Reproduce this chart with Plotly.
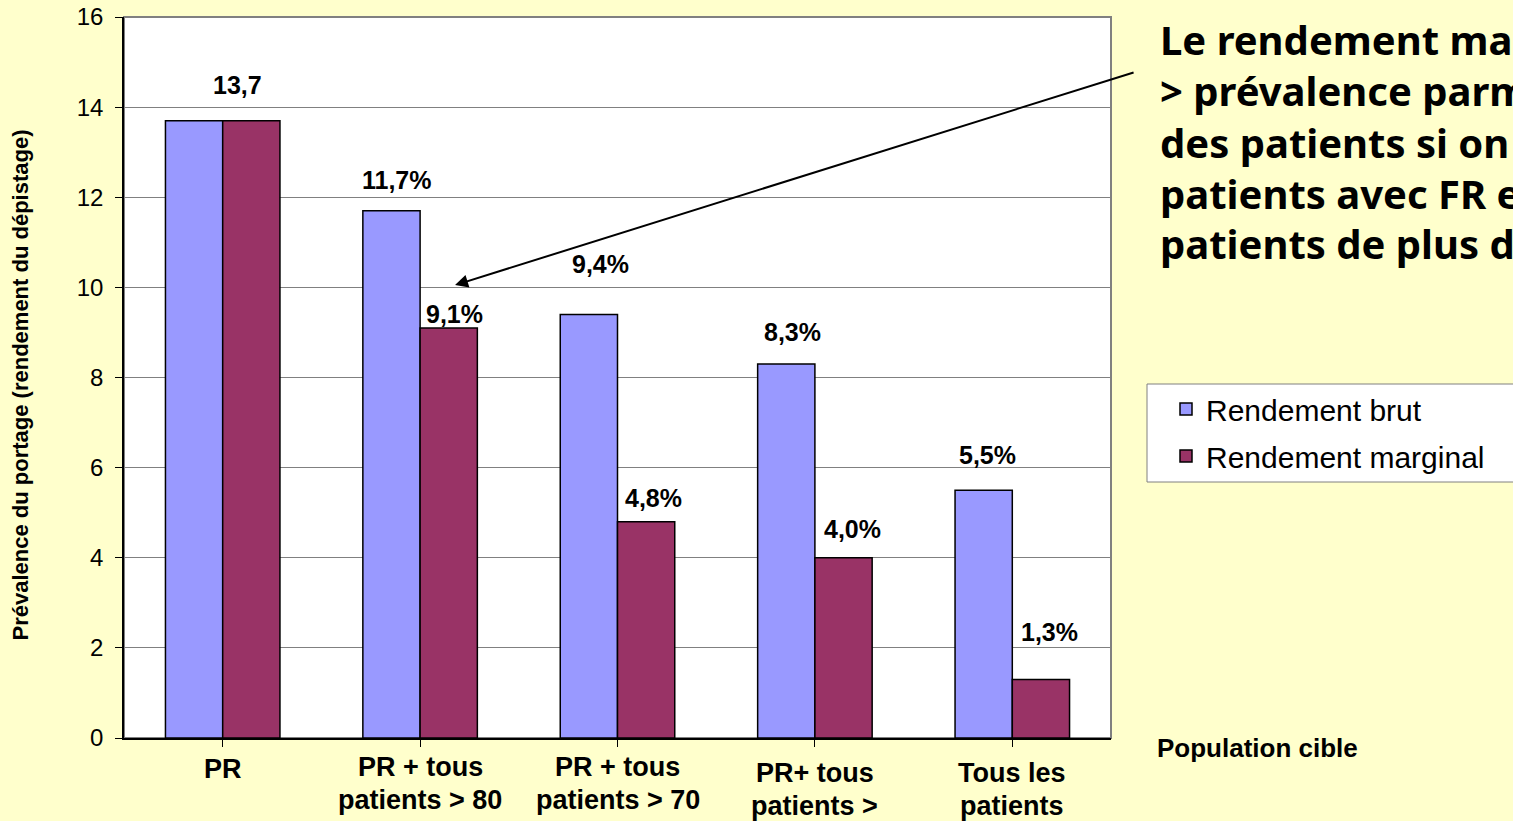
import plotly.graph_objects as go

categories = ["PR", "PR + tous<br>patients > 80", "PR + tous<br>patients > 70",
              "PR+ tous<br>patients >", "Tous les<br>patients"]
brut = [13.7, 11.7, 9.4, 8.3, 5.5]
marginal = [13.7, 9.1, 4.8, 4.0, 1.3]
brut_labels = ["13,7", "11,7%", "9,4%", "8,3%", "5,5%"]
marginal_labels = ["", "9,1%", "4,8%", "4,0%", "1,3%"]
y_ticks = [0, 2, 4, 6, 8, 10, 12, 14, 16]
callout_lines = ["Le rendement marginal =", "&gt; prévalence parmi le reste",
                 "des patients si on dépiste les", "patients avec FR et les",
                 "patients de plus de 80 ans"]

# label placement (style, in pixels)
brut_shift = [(43, 36), (5, 31), (11, 50), (6, 32), (4, 35)]
marg_shift = [(0, 0), (6, 14), (7, 24), (9, 29), (9, 47)]
xlabel_first_px = [769, 767, 767, 773, 773]
LINE_PX = 33
CALLOUT_FIRST_PX, CALLOUT_LINE_PX = 40, 51

BLUE = "#9999FF"
RED = "#993366"
FONT = "Arial, Liberation Sans, sans-serif"

PLOT_TOP, PLOT_BOTTOM, PLOT_LEFT, PLOT_RIGHT = 17, 738, 124, 1111


def py(p):
    return (PLOT_BOTTOM - p) / (PLOT_BOTTOM - PLOT_TOP)


def px(p):
    return (p - PLOT_LEFT) / (PLOT_RIGHT - PLOT_LEFT)


idx = list(range(len(categories)))
fig = go.Figure()
fig.add_trace(go.Bar(x=idx, y=brut, name="Rendement brut", legendgroup="a",
                     marker=dict(color=BLUE, line=dict(color="black", width=1.5))))
fig.add_trace(go.Bar(x=idx, y=marginal, name="Rendement marginal", legendgroup="b",
                     marker=dict(color=RED, line=dict(color="black", width=1.5))))

ann = []
half = 0.1444
for i, (v, t) in enumerate(zip(brut, brut_labels)):
    if t:
        ann.append(dict(x=i - half, y=v, xref="x", yref="y", text="<b>%s</b>" % t,
                        showarrow=False, xshift=brut_shift[i][0], yshift=brut_shift[i][1],
                        font=dict(family=FONT, size=25, color="black")))
for i, (v, t) in enumerate(zip(marginal, marginal_labels)):
    if t:
        ann.append(dict(x=i + half, y=v, xref="x", yref="y", text="<b>%s</b>" % t,
                        showarrow=False, xshift=marg_shift[i][0], yshift=marg_shift[i][1],
                        font=dict(family=FONT, size=25, color="black")))
for i, c in enumerate(categories):
    for k, line in enumerate(c.split("<br>")):
        ann.append(dict(x=i, y=py(xlabel_first_px[i] + k * LINE_PX), xref="x", yref="paper",
                        text="<b>%s</b>" % line, showarrow=False, yanchor="middle",
                        font=dict(family=FONT, size=27, color="black")))
# y-axis title
ann.append(dict(x=px(5), y=py(385), xref="paper", yref="paper",
                text="<b>Prévalence du portage (rendement du dépistage)</b>",
                textangle=-90, showarrow=False,
                font=dict(family=FONT, size=22, color="black")))
# x-axis title
ann.append(dict(x=px(1155), y=py(748), xref="paper", yref="paper", xanchor="left",
                yanchor="middle", text="<b>Population cible</b>", showarrow=False,
                font=dict(family=FONT, size=26, color="black")))
# callout text
for k, line in enumerate(callout_lines):
    ann.append(dict(x=px(1158), y=py(CALLOUT_FIRST_PX + k * CALLOUT_LINE_PX),
                    xref="paper", yref="paper", xanchor="left", yanchor="middle",
                    align="left", showarrow=False, text="<b>%s</b>" % line,
                    font=dict(family="Comic Sans MS, Noto Sans, sans-serif", size=40,
                              color="black")))
# arrow
ann.append(dict(x=1.177, y=10.05, xref="x", yref="y", ax=4.622, ay=14.78,
                axref="x", ayref="y", text="", showarrow=True, arrowhead=2,
                arrowsize=1.3, arrowwidth=2, arrowcolor="black"))

fig.update_layout(
    width=1513, height=821,
    margin=dict(l=PLOT_LEFT, r=1513 - PLOT_RIGHT, t=PLOT_TOP, b=821 - PLOT_BOTTOM, autoexpand=False),
    paper_bgcolor="#FFFFCC", plot_bgcolor="white",
    barmode="group", bargap=0.42, bargroupgap=0,
    font=dict(family=FONT, color="black"),
    annotations=ann,
    showlegend=True,
    legend=dict(x=px(1166), y=py(383), xanchor="left", yanchor="top",
                bgcolor="rgba(0,0,0,0)", borderwidth=0,
                font=dict(family=FONT, size=30, color="black"),
                tracegroupgap=5),
    shapes=[dict(type="rect", xref="paper", yref="paper", x0=0, x1=1, y0=0, y1=1,
                 line=dict(color="#808080", width=2), layer="below"),
            dict(type="rect", xref="paper", yref="paper", x0=px(1147), x1=px(1530),
                 y0=py(482), y1=py(384), fillcolor="white",
                 line=dict(color="#808080", width=1), layer="below")],
    xaxis=dict(tickvals=idx, ticktext=["" for _ in idx], range=[-0.5, 4.5],
               showline=True, linecolor="black", linewidth=1.5,
               ticks="outside", tickson="boundaries", ticklen=7, tickcolor="black",
               showgrid=False, zeroline=False, automargin=False),
    yaxis=dict(range=[0, 16], tickvals=y_ticks, showline=True, linecolor="black",
               linewidth=1.5, ticks="outside", ticklen=7, tickcolor="black",
               ticklabelstandoff=7,
               showgrid=True, gridcolor="#808080", gridwidth=1, zeroline=False,
               tickfont=dict(family=FONT, size=24, color="black"), automargin=False),
)

fig.write_html("out.html", config={"displayModeBar": False},
               post_script="document.body.style.margin='0';"
                           "document.body.style.background='#FFFFCC';"
                           "document.body.style.overflow='hidden';")
